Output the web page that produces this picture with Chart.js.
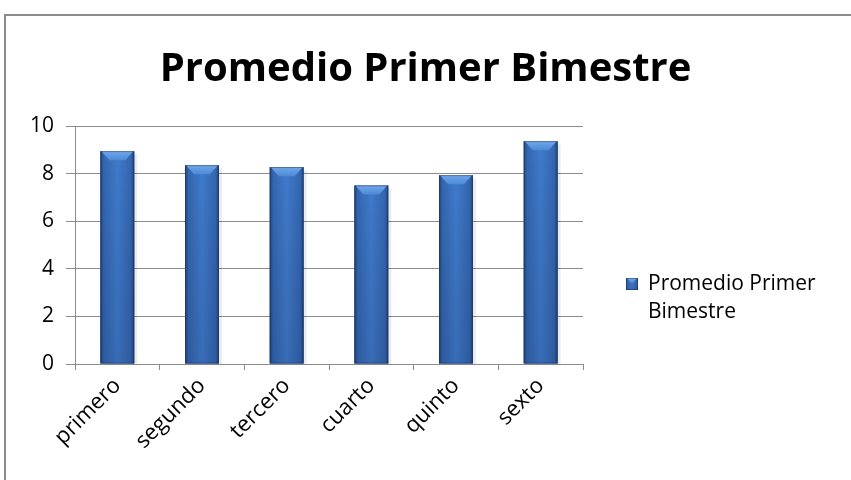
<!DOCTYPE html>
<html>
<head>
<meta charset="utf-8">
<script src="https://cdn.jsdelivr.net/npm/chart.js@4.4.1/dist/chart.umd.min.js"></script>
<style>
  html, body { margin: 0; padding: 0; background: #fff; overflow: hidden; }
  #frame { position: absolute; left: 4px; top: 14px; width: 900px; height: 520px;
           border: 2px solid #8c8c8c; box-sizing: border-box; }
  #wrap { position: absolute; left: 0; top: 0; width: 851px; height: 480px; }
</style>
</head>
<body>
<div id="frame"></div>
<div id="wrap"><canvas id="chart"></canvas></div>
<script>
const TITLE = "Promedio Primer Bimestre";
const SERIES_NAME = ["Promedio Primer", "Bimestre"];
const CATEGORIES = ["primero", "segundo", "tercero", "cuarto", "quinto", "sexto"];
const PROMEDIOS = [8.94, 8.35, 8.27, 7.5, 7.93, 9.36];

const FONT = "'Open Sans', 'Noto Sans', sans-serif";
const AXIS_COLOR = "#8c8c8c";
const BAR_BASE = "#3a6db5";

// light/dark bevel look of the office bars
function paintBar(ctx, left, top, width, bottom, bevel) {
  const h = bottom - top;
  if (h <= 0) return;
  const side = ctx.createLinearGradient(left, 0, left + width, 0);
  side.addColorStop(0, "#22457c");
  side.addColorStop(0.1, "#3466b0");
  side.addColorStop(0.5, "#407bcc");
  side.addColorStop(0.9, "#3466b0");
  side.addColorStop(1, "#22457c");
  ctx.fillStyle = side;
  ctx.fillRect(left, top, width, h);

  const shade = ctx.createLinearGradient(0, top, 0, bottom);
  shade.addColorStop(0, "rgba(0,0,0,0)");
  shade.addColorStop(1, "rgba(10,20,50,0.14)");
  ctx.fillStyle = shade;
  ctx.fillRect(left, top, width, h);

  const b = Math.min(bevel, h / 2, width / 2);
  const cap = ctx.createLinearGradient(0, top, 0, top + b);
  cap.addColorStop(0, "#8dbbf2");
  cap.addColorStop(0.25, "#66a0e6");
  cap.addColorStop(1, "#4d88d6");
  ctx.fillStyle = cap;
  ctx.beginPath();
  ctx.moveTo(left + 1, top);
  ctx.lineTo(left + width - 1, top);
  ctx.lineTo(left + width - b, top + b);
  ctx.lineTo(left + b, top + b);
  ctx.closePath();
  ctx.fill();

  ctx.strokeStyle = "rgba(25,45,85,0.5)";
  ctx.lineWidth = 1;
  ctx.strokeRect(left + 0.5, top + 0.5, width - 1, h - 1);
}

const barLook = {
  id: "barLook",
  beforeDatasetsDraw(chart) {
    const ctx = chart.ctx;
    const meta = chart.getDatasetMeta(0);
    ctx.save();
    meta.data.forEach((el) => {
      const { x, y, base, width } = el.getProps(["x", "y", "base", "width"], true);
      ctx.fillStyle = "rgba(0,0,0,0.08)";
      ctx.fillRect(x - width / 2 + 3, y + 3, width, base - y - 2);
    });
    ctx.restore();
  },
  afterDatasetsDraw(chart) {
    const ctx = chart.ctx;
    const meta = chart.getDatasetMeta(0);
    ctx.save();
    meta.data.forEach((el) => {
      const { x, y, base, width } = el.getProps(["x", "y", "base", "width"], true);
      paintBar(ctx, x - width / 2, y, width, base, 9);
    });
    ctx.restore();
  },
};

// legend as a layout box on the right so the title stays centred on the whole chart
const sideLegend = {
  id: "sideLegend",
  beforeInit(chart) {
    const box = {
      position: "right",
      weight: 1000,
      fullSize: false,
      options: {},
      width: 0,
      height: 0,
      isHorizontal() { return false; },
      getPadding() { return { top: 0, left: 0, right: 0, bottom: 0 }; },
      update(maxWidth, maxHeight) {
        this.width = 268;
        this.height = maxHeight;
      },
      draw() {
        const ctx = chart.ctx;
        const area = chart.chartArea;
        const x = this.left + 43;
        const y = area.top + 158;
        ctx.save();
        paintBar(ctx, x, y - 6, 12, y + 6, 5);
        ctx.fillStyle = "#000";
        ctx.font = "21px " + FONT;
        ctx.textBaseline = "middle";
        ctx.textAlign = "left";
        SERIES_NAME.forEach((line, i) => ctx.fillText(line, x + 22, y + i * 28));
        ctx.restore();
      },
    };
    Chart.layouts.addBox(chart, box);
  },
};

new Chart(document.getElementById("chart"), {
  type: "bar",
  data: {
    labels: CATEGORIES,
    datasets: [
      {
        label: SERIES_NAME.join(" "),
        data: PROMEDIOS,
        backgroundColor: BAR_BASE,
        borderWidth: 0,
        categoryPercentage: 1,
        barPercentage: 0.4,
      },
    ],
  },
  options: {
    responsive: true,
    maintainAspectRatio: false,
    animation: false,
    layout: { padding: { left: 0, right: 0, top: 0, bottom: 0 } },
    plugins: {
      legend: { display: false },
      tooltip: { enabled: false },
      title: {
        display: true,
        text: TITLE,
        color: "#000",
        font: { family: FONT, size: 40, weight: "bold" },
        padding: { top: 46, bottom: 32 },
      },
    },
    scales: {
      x: {
        grid: {
          offset: true,
          drawOnChartArea: false,
          drawTicks: true,
          tickLength: 6,
          color: AXIS_COLOR,
        },
        border: { color: AXIS_COLOR, width: 1 },
        ticks: {
          minRotation: 45,
          maxRotation: 45,
          color: "#000",
          font: { family: FONT, size: 22 },
          padding: 3,
        },
        afterFit: (scale) => { scale.height = 116; },
      },
      y: {
        min: 0,
        max: 10,
        ticks: {
          stepSize: 2,
          color: "#000",
          font: { family: FONT, size: 21 },
          padding: 12,
        },
        grid: { color: AXIS_COLOR, tickLength: 9 },
        border: { color: AXIS_COLOR, width: 1 },
        afterFit: (scale) => { scale.width = 75; },
      },
    },
  },
  plugins: [barLook, sideLegend],
});
</script>
</body>
</html>
